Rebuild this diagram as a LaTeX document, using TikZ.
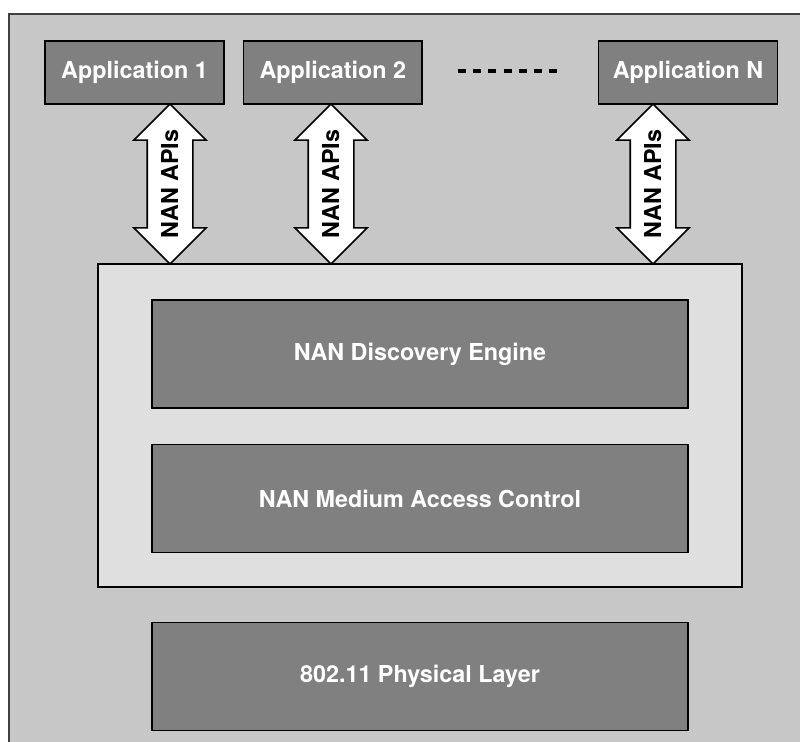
\documentclass[tikz,border=0pt]{standalone}
\usepackage{fontspec}
\setsansfont{TeX Gyre Heros}
\usetikzlibrary{positioning, shapes.arrows}
\definecolor{bggray}{gray}{0.78}
\definecolor{boxgray}{gray}{0.5}
\definecolor{panelgray}{gray}{0.875}

\begin{document}
\begin{tikzpicture}[
  x=0.75pt, y=-0.75pt,
  every node/.style={font=\fontsize{17.5}{20}\selectfont\sffamily\bfseries, align=center},
  app/.style     ={rectangle, draw, line width=1.2pt, fill=boxgray, text=white,
                   minimum width=134pt, minimum height=47pt, inner sep=0pt},
  layer/.style   ={rectangle, draw, line width=1.2pt, fill=boxgray, text=white,
                   minimum width=402pt, minimum height=81pt, inner sep=0pt},
  panel/.style   ={rectangle, draw, line width=1.2pt, fill=panelgray,
                   minimum width=483pt, minimum height=242pt, inner sep=0pt},
  apiarr/.style  ={double arrow, draw, line width=1.2pt, fill=white, text=black,
                   rotate=90, double arrow head extend=10pt,
                   minimum height=120pt, minimum width=0pt,
                   text height=12.2pt, text depth=0pt, inner ysep=10.4pt, inner xsep=0pt},
  dots/.style    ={line width=3pt, dash pattern=on 6pt off 5.4pt},
]
\useasboundingbox (0,0) rectangle (800,742);

% Background frame
\draw[line width=1pt, draw=black!75, fill=bggray] (9,14) rectangle (815,760);

% Applications
\node[app] (app1) at (134.5,72.5)         {Application 1};
\node[app, right=13.5pt of app1] (app2)   {Application 2};
\node[app] (appN) at (688,72.5)           {Application N};

% Dots between applications
\coordinate (dotsL) at (458,71);
\coordinate (dotsR) at (558,71);
\draw[dots] (dotsL) -- (dotsR);

% NAN stack
\node[panel] (nan)  at (420,425.5) {};
\node[layer] (disc) at (420,354)   {NAN Discovery Engine};
\node[layer, below=26.25pt of disc] (mac) {NAN Medium Access Control};

% Physical layer
\node[layer] (phy) at (420,676.5) {802.11 Physical Layer};

% API arrows
\node[apiarr] (api1) at (170,184) {NAN APIs};
\node[apiarr] (api2) at (331,184) {NAN APIs};
\node[apiarr] (apiN) at (653,184) {NAN APIs};

\end{tikzpicture}
\end{document}
